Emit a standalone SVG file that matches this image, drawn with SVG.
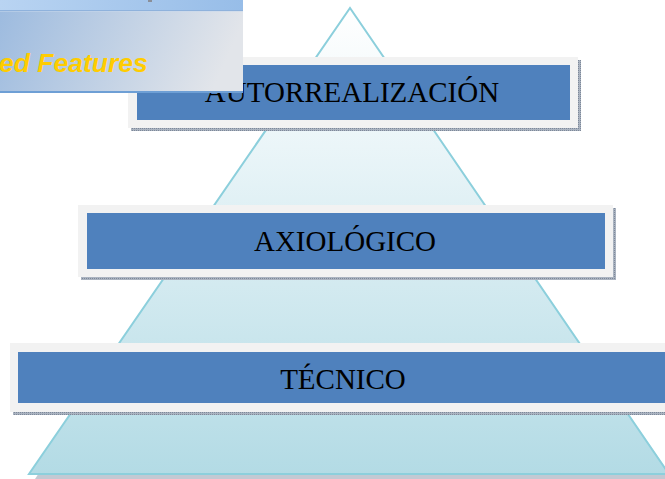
<svg xmlns="http://www.w3.org/2000/svg" width="665" height="479" viewBox="0 0 665 479">
<defs>
<linearGradient id="pyr" x1="0" y1="0" x2="0" y2="1">
<stop offset="0" stop-color="#ffffff"/>
<stop offset="0.3" stop-color="#eaf5f8"/>
<stop offset="1" stop-color="#b3dbe5"/>
</linearGradient>
<linearGradient id="panel" x1="0" y1="0" x2="1" y2="0.15">
<stop offset="0" stop-color="#9dbbdf"/>
<stop offset="1" stop-color="#e2e5ea"/>
</linearGradient>
<linearGradient id="strip" x1="0" y1="0" x2="1" y2="0">
<stop offset="0" stop-color="#b9d4f2"/>
<stop offset="1" stop-color="#97bde8"/>
</linearGradient>
<pattern id="dots" width="2" height="2" patternUnits="userSpaceOnUse">
<rect width="2" height="2" fill="#aab3c0"/>
<rect width="1" height="1" fill="#7d8899"/>
</pattern>
</defs>
<style>
.frame{fill:#f2f2f2}
.bar{fill:#4f81bd}
.shadow{fill:url(#dots)}
.lbl{font-family:"Liberation Serif","Times New Roman",serif;font-size:29px;fill:#000;text-anchor:middle}
</style>
<g id="pyramid">
<polygon points="33,477 671,477 350,10" fill="#9aa5b5" transform="translate(2,2)" opacity="0.6"/>
<polygon points="29,474 669,474 350,8" fill="url(#pyr)" stroke="#8ccfdc" stroke-width="2" stroke-linejoin="miter"/>
</g>
<g id="autorrealizacion">
<rect class="shadow" x="131" y="60" width="450" height="71"/>
<rect class="frame" x="128" y="57" width="450" height="71"/>
<rect class="bar" x="137" y="65" width="433" height="55"/>
<text class="lbl" x="352" y="102">AUTORREALIZACIÓN</text>
</g>
<g id="axiologico">
<rect class="shadow" x="81" y="208" width="535" height="72"/>
<rect class="frame" x="78" y="205" width="535" height="72"/>
<rect class="bar" x="87" y="213" width="518" height="56"/>
<text class="lbl" x="345" y="251">AXIOLÓGICO</text>
</g>
<g id="tecnico">
<rect class="shadow" x="13" y="346" width="660" height="69"/>
<rect class="frame" x="10" y="343" width="660" height="69"/>
<rect class="bar" x="18" y="352" width="660" height="51"/>
<text class="lbl" x="343" y="389">TÉCNICO</text>
</g>
<g id="features-panel">
<rect x="0" y="0" width="243" height="11" fill="url(#strip)"/>
<rect x="148" y="0" width="4" height="2" fill="#8a8f99"/>
<rect x="0" y="10" width="243" height="1.5" fill="#8fb2dc"/>
<rect x="0" y="11.5" width="243" height="80" fill="url(#panel)"/>
<rect x="0" y="91" width="243" height="2" fill="#6e9fd5"/>
<text x="-1" y="72" font-family="Liberation Sans, Arial, sans-serif" font-size="26.5" font-weight="bold" font-style="italic" fill="#ffcc00">ed Features</text>
</g>
</svg>
